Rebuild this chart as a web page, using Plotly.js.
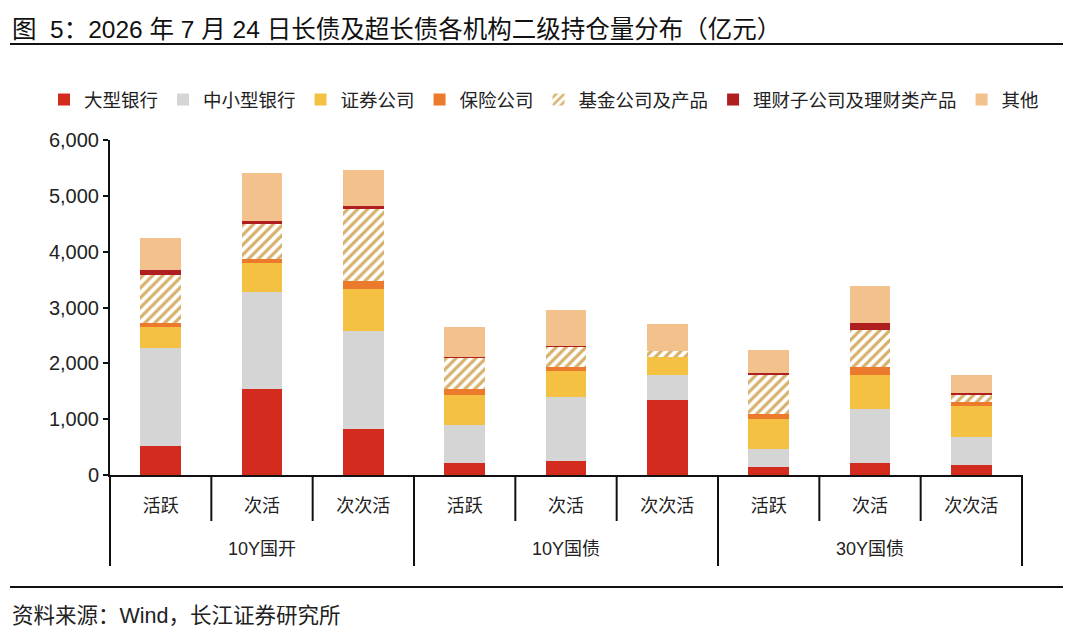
<!DOCTYPE html>
<html>
<head>
<meta charset="utf-8">
<script src="https://cdn.plot.ly/plotly-3.0.1.min.js"></script>
<style>
  html, body { margin: 0; padding: 0; background: #fff; }
  #chart { width: 1080px; height: 642px; }
</style>
</head>
<body>
<div id="chart"></div>
<script>
var groupNames = ['10Y国开', '10Y国债', '30Y国债'];
var groups = ['10Y国开', '10Y国开', '10Y国开', '10Y国债', '10Y国债', '10Y国债', '30Y国债', '30Y国债', '30Y国债'];
var bonds = ['活跃', '次活', '次次活', '活跃', '次活', '次次活', '活跃', '次活', '次次活'];

// 亿元
var bigBank = [523, 1548, 821, 214, 244, 1339, 143, 220, 185];
var smallBank = [1757, 1738, 1756, 679, 1155, 459, 321, 970, 500];
var securities = [375, 506, 750, 547, 458, 309, 548, 602, 553];
var insurance = [59, 83, 143, 96, 83, 12, 83, 148, 77];
var funds = [875, 625, 1298, 553, 358, 95, 691, 661, 125];
var wealth = [83, 54, 47, 24, 17, 5, 41, 113, 24];
var others = [572, 851, 643, 530, 649, 483, 417, 679, 328];

var fontFamily = '"Liberation Sans", Arial, "Noto Sans CJK SC", sans-serif';
var idx = bonds.map(function (b, i) { return i; });

function makeBar(name, values, color) {
    return {
        type: 'bar',
        name: name,
        x: idx,
        y: values,
        marker: { color: color, line: { width: 0 } },
        hoverinfo: 'y+name'
    };
}

var fundTrace = makeBar('基金公司及产品', funds, '#ffffff');
fundTrace.marker.pattern = { shape: '/', fgcolor: '#D6B06A', bgcolor: '#ffffff', size: 7, solidity: 0.45 };

var data = [
    makeBar('大型银行', bigBank, '#D32B1E'),
    makeBar('中小型银行', smallBank, '#D5D5D5'),
    makeBar('证券公司', securities, '#F4C143'),
    makeBar('保险公司', insurance, '#EC7A2C'),
    fundTrace,
    makeBar('理财子公司及理财类产品', wealth, '#AF1F1F'),
    makeBar('其他', others, '#F2C18C')
];

// plot area: x 110..1022, y 140..475 (px)
function px(x) { return (x - 110) / 912; }
function py(y) { return (475 - y) / 335; }

var shapes = [
    { type: 'line', xref: 'paper', yref: 'paper', x0: px(10), x1: px(1063), y0: py(44), y1: py(44),
      line: { color: '#111', width: 2 } },
    { type: 'line', xref: 'paper', yref: 'paper', x0: px(10), x1: px(1063), y0: py(587), y1: py(587),
      line: { color: '#111', width: 2 } }
];
var annotations = [
    { xref: 'paper', yref: 'paper', x: px(10), y: py(30), xanchor: 'left', yanchor: 'middle',
      text: '图  5：2026 年 7 月 24 日长债及超长债各机构二级持仓量分布（亿元）', showarrow: false,
      font: { size: 24.5, color: '#111' } },
    { xref: 'paper', yref: 'paper', x: px(10), y: py(616), xanchor: 'left', yanchor: 'middle',
      text: '资料来源：Wind，长江证券研究所', showarrow: false,
      font: { size: 21.5, color: '#222' } }
];

// category boundaries: short ticks inside a group, long dividers between groups
for (var k = 0; k <= bonds.length; k++) {
    var isGroupEdge = k === 0 || k === bonds.length || groups[k] !== groups[k - 1];
    shapes.push({
        type: 'line', xref: 'paper', yref: 'paper',
        x0: k / bonds.length, x1: k / bonds.length,
        y0: 0, y1: isGroupEdge ? py(566) : py(521),
        line: { color: '#111', width: 2 }
    });
}
groupNames.forEach(function (g) {
    var members = idx.filter(function (i) { return groups[i] === g; });
    var center = (members[0] + members[members.length - 1]) / 2;
    annotations.push({
        xref: 'x', yref: 'paper', x: center, y: py(549), xanchor: 'center', yanchor: 'middle',
        text: g, showarrow: false, font: { size: 18, color: '#222' }
    });
});

var layout = {
    width: 1080,
    height: 642,
    margin: { l: 110, r: 58, t: 140, b: 167 },
    paper_bgcolor: '#fff',
    plot_bgcolor: '#fff',
    barmode: 'stack',
    bargap: 0.6,
    font: { family: fontFamily, size: 18, color: '#222' },
    showlegend: true,
    legend: {
        orientation: 'h',
        x: px(44),
        y: py(100),
        xanchor: 'left',
        yanchor: 'middle',
        font: { size: 18.5, color: '#222' },
        traceorder: 'normal',
        itemwidth: 30
    },
    xaxis: {
        range: [-0.5, bonds.length - 0.5],
        tickvals: idx,
        ticktext: bonds,
        showline: true,
        linecolor: '#111',
        linewidth: 2,
        ticks: 'outside',
        ticklen: 13,
        tickcolor: 'rgba(0,0,0,0)',
        tickfont: { size: 18, color: '#222' },
        showgrid: false,
        zeroline: false,
        fixedrange: true
    },
    yaxis: {
        range: [0, 6000],
        dtick: 1000,
        tickformat: ',d',
        showline: true,
        linecolor: '#111',
        linewidth: 2,
        ticks: 'outside',
        ticklen: 5,
        tickwidth: 2,
        tickcolor: '#111',
        showgrid: false,
        zeroline: false,
        tickfont: { size: 20, color: '#222' },
        fixedrange: true
    },
    shapes: shapes,
    annotations: annotations
};

Plotly.newPlot('chart', data, layout, { displayModeBar: false, staticPlot: true });
</script>
</body>
</html>
